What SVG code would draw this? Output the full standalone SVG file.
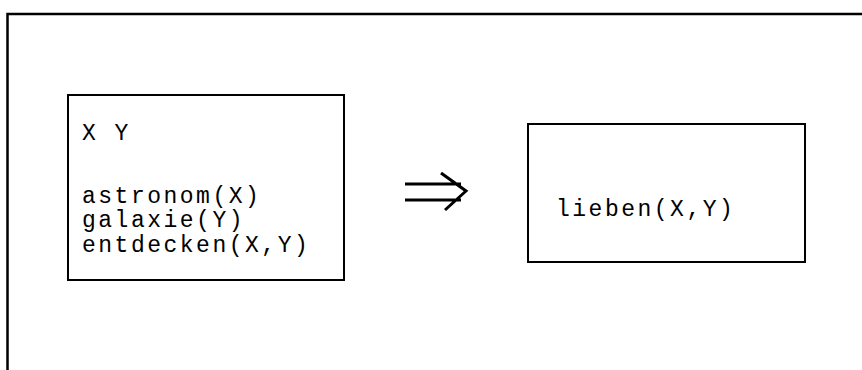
<svg xmlns="http://www.w3.org/2000/svg" width="862" height="370" viewBox="0 0 862 370">
<style>
.box{fill:#fff;stroke:#000;stroke-width:2}
.t{font-family:"Courier New","Nimbus Mono PS","FreeMono","Liberation Mono",monospace;font-size:23px;letter-spacing:2.5px;fill:#000}
.arr{fill:none;stroke:#000;stroke-width:3}
</style>
<rect width="862" height="370" fill="#fff"/>
<path d="M7.5,372 V14 H864" fill="none" stroke="#000" stroke-width="2.5"/>
<g id="premise">
<rect class="box" x="68" y="95" width="276" height="185"/>
<text class="t" x="82" y="140">X Y</text>
<text class="t" x="82" y="203">astronom(X)</text>
<text class="t" x="82" y="227">galaxie(Y)</text>
<text class="t" x="82" y="252">entdecken(X,Y)</text>
</g>
<g id="conclusion">
<rect class="box" x="528" y="124" width="277" height="138"/>
<text class="t" x="556" y="216">lieben(X,Y)</text>
</g>
<g id="connectors">
<path class="arr" d="M405,184 H461 M405,200 H461 M441,173 L466,191 L445,210"/>
</g>
</svg>
